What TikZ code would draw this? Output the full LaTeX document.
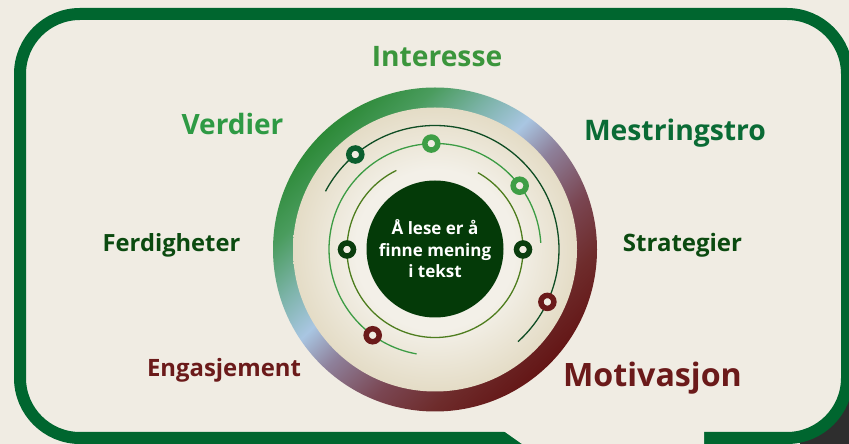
\documentclass[tikz,border=0pt]{standalone}
\usepackage{fontspec}
\setmainfont{Open Sans}
\usetikzlibrary{calc}
\definecolor{bg}{HTML}{F0ECE3}
\definecolor{framegreen}{HTML}{00662F}
\definecolor{darkcorner}{HTML}{2E2E2E}
\definecolor{rA}{HTML}{641616}
\definecolor{rB}{HTML}{6E2C2C}
\definecolor{rC}{HTML}{7A4652}
\definecolor{rD}{HTML}{8E809A}
\definecolor{bl}{HTML}{A9C6E2}
\definecolor{tE}{HTML}{7CB3A8}
\definecolor{gF}{HTML}{4A9C5E}
\definecolor{gA}{HTML}{2D8A38}
\definecolor{dIn}{HTML}{F3F0E8}
\definecolor{dOut}{HTML}{E4DCC6}
\definecolor{hubgreen}{HTML}{043A08}
\definecolor{arcAcol}{HTML}{0F4D24}
\definecolor{arcBcol}{HTML}{3C9C44}
\definecolor{arcCcol}{HTML}{4E7D1E}
\definecolor{dotdark}{HTML}{0B5E2E}
\definecolor{dotmid}{HTML}{3E9E45}
\definecolor{dotdeep}{HTML}{0A3D0E}
\definecolor{dotred}{HTML}{6B1A1A}
\definecolor{dotfill}{HTML}{F0ECE2}
\definecolor{cInt}{HTML}{3B963C}
\definecolor{cVer}{HTML}{2E9A44}
\definecolor{cMes}{HTML}{0A6B35}
\definecolor{cDark}{HTML}{0B4A10}
\definecolor{cRed}{HTML}{6B1A1A}
\pgfdeclarehorizontalshading{ringshade}{100bp}{color(0bp)=(rA); color(25bp)=(rA); color(32.5bp)=(rB); color(40bp)=(rC); color(48.5bp)=(rD); color(54.5bp)=(bl); color(61bp)=(tE); color(68bp)=(gF); color(75bp)=(gA); color(100bp)=(gA)}
\pgfdeclareradialshading{discshade}{\pgfpoint{0bp}{0bp}}{color(0bp)=(dIn); color(14bp)=(dIn); color(25bp)=(dOut); color(50bp)=(dOut)}
\tikzset{
  lbl/.style={font=\bfseries\fontsize{#1}{#1}\selectfont, inner sep=0pt, anchor=base},
  ringdot/.style={circle, draw=#1, line width=5.5pt, fill=dotfill, minimum size=13pt, inner sep=0pt},
  orbit/.style={draw=#1, line width=1.3pt},
  framestroke/.style={draw=framegreen, line width=12pt, rounded corners=60pt},
}
\begin{document}
\begin{tikzpicture}[x=1pt,y=1pt]
\useasboundingbox (0,0) rectangle (849,444);
\fill[bg] (0,0) rectangle (849,444);
% photo corner outside the frame
\fill[darkcorner] (800,0) rectangle (849,75);
% frame
\fill[bg, rounded corners=60pt] (20,6) rectangle (847,430);
\draw[framestroke] (704,6) -- (847,6) -- (847,430) -- (20,430) -- (20,6) -- (530,6);
\fill[bg] (500.75,15) -- (526.25,-3) -- (704,-3) -- (704,15) -- cycle;
% ring
\coordinate (C) at (435,194.5);
\shade[shading=ringshade, shading angle=134] (C) circle[radius=162pt];
\shade[shading=discshade] (C) circle[radius=142pt];
% orbits
\draw[orbit=arcAcol] (C) ++(-48:124pt) arc[start angle=-48, end angle=152, radius=124pt];
\draw[orbit=arcBcol] (C) ++(3.6:106pt) arc[start angle=3.6, end angle=260, radius=106pt];
\draw[orbit=arcCcol] (C) ++(116:88pt) arc[start angle=116, end angle=420.8, radius=88pt];
% hub
\node[circle, fill=hubgreen, minimum size=137pt, inner sep=0pt, text=white, align=center,
      font=\bfseries\fontsize{17}{21.5}\selectfont] (hub) at (435,195) {Å lese er å\\finne mening\\i tekst};
% dots
\node[ringdot=dotdark] (d1) at ($(C)+(130:124pt)$) {};
\node[ringdot=dotmid]  (d2) at ($(C)+(92:106pt)$) {};
\node[ringdot=dotmid]  (d3) at ($(C)+(37:106pt)$) {};
\node[ringdot=dotdeep] (d4) at ($(C)+(180:88pt)$) {};
\node[ringdot=dotdeep] (d5) at ($(C)+(0:88pt)$) {};
\node[ringdot=dotred]  (d6) at ($(C)+(-25:124pt)$) {};
\node[ringdot=dotred]  (d7) at ($(C)+(234:106pt)$) {};
% labels
\node[lbl=28.2, text=cInt] (interesse) at (437,377) {Interesse};
\node[lbl=28, text=cVer] (verdier) at (232.5,309) {Verdier};
\node[lbl=28.3, text=cMes] (mestring) at (675,303) {Mestringstro};
\node[lbl=23.7, text=cDark] (ferd) at (171.5,192) {Ferdigheter};
\node[lbl=24, text=cDark] (strat) at (682.5,192) {Strategier};
\node[lbl=23.9, text=cRed] (enga) at (224,67) {Engasjement};
\node[lbl=32.2, text=cRed] (motiv) at (652.5,57) {Motivasjon};
\end{tikzpicture}
\end{document}
